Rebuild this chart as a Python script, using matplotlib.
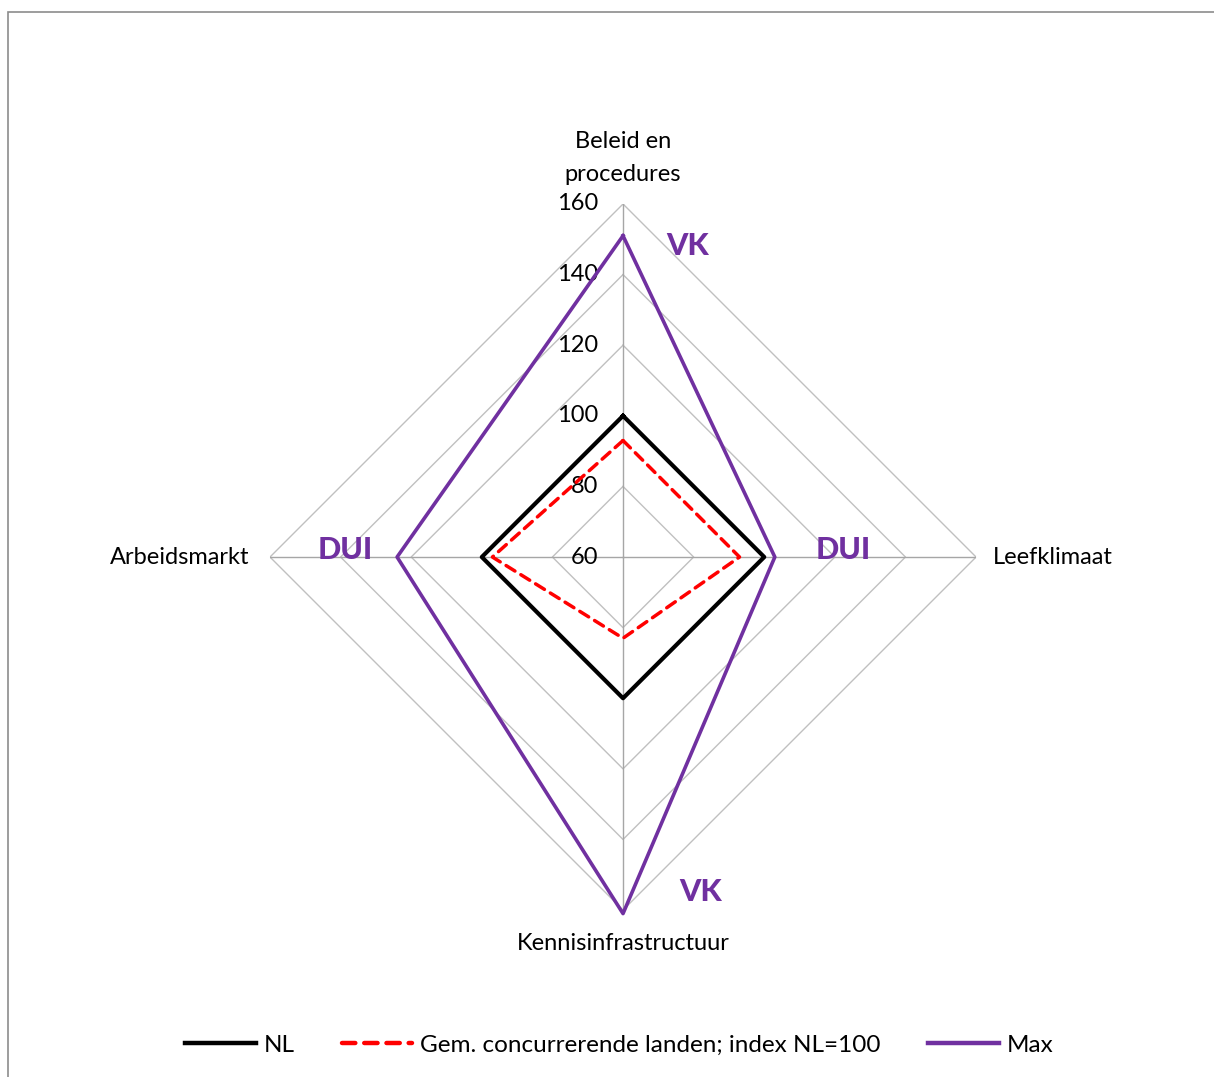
import numpy as np
import matplotlib.pyplot as plt
from matplotlib.patches import Rectangle

plt.rcParams['font.family'] = ['Lato', 'DejaVu Sans']

categories = ['Beleid en\nprocedures', 'Leefklimaat', 'Kennisinfrastructuur', 'Arbeidsmarkt']
nl = [100, 100, 100, 100]
gem = [93, 93, 83, 97]
maxv = [151, 103, 161, 124]
max_labels = ['VK', 'DUI', 'VK', 'DUI']
rticks = [60, 80, 100, 120, 140, 160]

purple = '#7030A0'
fs = 17

fig = plt.figure(figsize=(12.14, 10.77), dpi=100)
fig.patches.append(Rectangle((0.007, -0.01), 1.2, 0.999, transform=fig.transFigure,
                             fill=False, edgecolor='#8c8c8c', linewidth=1.2))

ax = fig.add_axes([0.2224, 0.155, 0.5816, 0.6556], projection='polar')
ax.set_theta_zero_location('N')
ax.set_theta_direction(-1)
ax.set_ylim(60, 160)
ax.grid(False)
ax.spines['polar'].set_visible(False)
ax.set_xticks([])
ax.set_yticks([])
ax.patch.set_alpha(0)

theta = np.arange(len(categories)) * 2 * np.pi / len(categories)
closed = np.append(theta, theta[0])

# diamond grid
for r in rticks:
    ax.plot(closed, [r] * len(closed), color='#c0c0c0', lw=1.0, zorder=1)
for t in theta:
    ax.plot([t, t], [60, 160], color='#a6a6a6', lw=1.0, zorder=1)

# tick labels along top spoke
for r in rticks:
    ax.annotate(str(r), xy=(0, r), xytext=(-18, 0), textcoords='offset points',
                ha='right', va='center', fontsize=fs, color='#000000')

ax.plot(closed, nl + nl[:1], color='black', lw=3.0, zorder=3, label='NL')
ax.plot(closed, gem + gem[:1], color='#ff0000', lw=2.5, ls=(0, (3, 2)),
        dash_capstyle='round', zorder=3, label='Gem. concurrerende landen; index NL=100')
ax.plot(closed, maxv + maxv[:1], color=purple, lw=2.6, zorder=4, clip_on=False, label='Max')

# category labels
ax.annotate(categories[0], xy=(theta[0], 160), xytext=(0, 14), textcoords='offset points',
            ha='center', va='bottom', fontsize=fs, linespacing=1.65)
ax.annotate(categories[1], xy=(theta[1], 160), xytext=(12, 0), textcoords='offset points',
            ha='left', va='center', fontsize=fs)
ax.annotate(categories[2], xy=(theta[2], 160), xytext=(0, -24), textcoords='offset points',
            ha='center', va='center', fontsize=fs)
ax.annotate(categories[3], xy=(theta[3], 160), xytext=(-15, 0), textcoords='offset points',
            ha='right', va='center', fontsize=fs)

# max labels
pos = [(0.592, 0.9405), (0.8116, 0.5099), (0.6105, 0.0255), (0.106, 0.5099)]
for lab, (x, y) in zip(max_labels, pos):
    ax.text(x, y, lab, transform=ax.transAxes, ha='center', va='center',
            fontsize=22, fontweight='black', color=purple)

leg = fig.legend(loc='center', bbox_to_anchor=(0.51, 0.0295), ncol=3, frameon=False,
                 fontsize=17.5, handlelength=2.9, handletextpad=0.32, columnspacing=1.95)
for line in leg.get_lines():
    line.set_linewidth(3.2)

fig.savefig('out.png', dpi=100)
